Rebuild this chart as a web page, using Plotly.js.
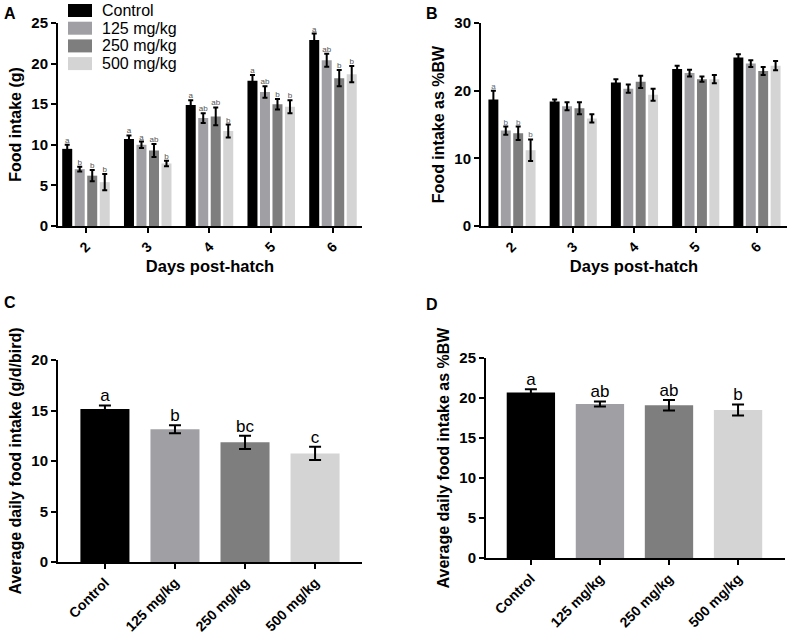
<!DOCTYPE html>
<html><head><meta charset="utf-8">
<script src="https://cdn.plot.ly/plotly-3.0.1.min.js"></script>
<style>html,body{margin:0;padding:0;background:#fff}#plot{width:791px;height:637px}</style>
</head><body><div id="plot"></div>
<script>
// ---- data ----
const days = ['2','3','4','5','6'];
const groups = ['Control','125 mg/kg','250 mg/kg','500 mg/kg'];

// Panel A: food intake (g)
const gControl = [9.5, 10.7, 14.9, 17.9, 22.9];
const gControlErr = [0.5, 0.45, 0.6, 0.7, 0.8];
const g125 = [7.0, 10.0, 13.3, 16.5, 20.4];
const g125Err = [0.3, 0.4, 0.6, 0.7, 0.8];
const g250 = [6.2, 9.3, 13.5, 15.0, 18.2];
const g250Err = [0.7, 0.8, 1.1, 0.65, 1.0];
const g500 = [5.4, 7.7, 11.7, 14.7, 18.7];
const g500Err = [1.0, 0.35, 0.8, 0.8, 1.0];
const gLetControl = ['a','a','a','a','a'];
const gLet125 = ['b','a','ab','ab','ab'];
const gLet250 = ['b','ab','ab','b','b'];
const gLet500 = ['b','b','b','b','b'];

// Panel B: food intake as %BW
const bwControl = [18.7, 18.4, 21.2, 23.2, 24.9];
const bwControlErr = [1.3, 0.3, 0.5, 0.5, 0.5];
const bw125 = [14.1, 17.7, 20.3, 22.6, 24.0];
const bw125Err = [0.6, 0.6, 0.6, 0.5, 0.5];
const bw250 = [13.7, 17.4, 21.3, 21.7, 22.9];
const bw250Err = [1.0, 0.9, 0.9, 0.4, 0.6];
const bw500 = [11.2, 15.9, 19.4, 21.7, 23.7];
const bw500Err = [1.6, 0.6, 0.9, 0.6, 0.7];
const bwLetControl = ['a','','','',''];
const bwLet125 = ['b','','','',''];
const bwLet250 = ['b','','','',''];
const bwLet500 = ['b','','','',''];

// Panel C: average daily food intake (g/d/bird)
const avgG = [15.15, 13.15, 11.85, 10.75];
const avgGErr = [0.35, 0.4, 0.65, 0.65];
const avgGLet = ['a','b','bc','c'];

// Panel D: average daily food intake as %BW
const avgBW = [20.7, 19.25, 19.1, 18.5];
const avgBWErr = [0.4, 0.3, 0.65, 0.7];
const avgBWLet = ['a','ab','ab','b'];

// ---- styles ----
const colors = ['#000000', '#a0a0a4', '#7e7e7e', '#d4d4d4'];
const FONT = 'Liberation Sans, Arial, sans-serif';

const aVals = [gControl, g125, g250, g500];
const aErrs = [gControlErr, g125Err, g250Err, g500Err];
const aLets = [gLetControl, gLet125, gLet250, gLet500];
const bVals = [bwControl, bw125, bw250, bw500];
const bErrs = [bwControlErr, bw125Err, bw250Err, bw500Err];
const bLets = [bwLetControl, bwLet125, bwLet250, bwLet500];

const traces = [];
function groupedPanel(vals, errs, lets, xa, ya, letColor) {
  vals.forEach((v, i) => {
    traces.push({
      type: 'bar', x: days, y: v, name: groups[i], xaxis: xa, yaxis: ya,
      marker: {color: colors[i], line: {width: 0}},
      error_y: {type: 'data', array: errs[i], visible: true, color: '#000', thickness: 2, width: 2.5},
      showlegend: false, hoverinfo: 'skip'
    });
  });
  vals.forEach((v, i) => {
    traces.push({
      type: 'scatter', mode: 'text', x: days, y: v.map((d, k) => d + errs[i][k]),
      text: lets[i], textposition: 'top center', xaxis: xa, yaxis: ya,
      textfont: {family: FONT, size: 8, color: letColor}, cliponaxis: false,
      showlegend: false, hoverinfo: 'skip'
    });
  });
}
groupedPanel(aVals, aErrs, aLets, 'x', 'y', '#555');
groupedPanel(bVals, bErrs, bLets, 'x2', 'y2', '#5a6a7a');

function singlePanel(v, e, l, xa, ya) {
  traces.push({
    type: 'bar', x: groups, y: v, xaxis: xa, yaxis: ya, width: 0.7,
    marker: {color: colors, line: {width: 0}},
    error_y: {type: 'data', array: e, visible: true, color: '#000', thickness: 2, width: 6},
    showlegend: false, hoverinfo: 'skip'
  });
  traces.push({
    type: 'scatter', mode: 'text', x: groups, y: v.map((d, k) => d + e[k]),
    text: l, textposition: 'top center', xaxis: xa, yaxis: ya,
    textfont: {family: FONT, size: 17, color: '#000'}, cliponaxis: false,
    showlegend: false, hoverinfo: 'skip'
  });
}
singlePanel(avgG, avgGErr, avgGLet, 'x3', 'y3');
singlePanel(avgBW, avgBWErr, avgBWLet, 'x4', 'y4');

const W = 791, H = 637;
function xax(l, r, range, anchor, title, fs) {
  return {
    domain: [l / W, r / W], range: range, anchor: anchor, type: 'category',
    showline: true, linecolor: '#000', linewidth: 2, ticks: 'outside', ticklen: 5, tickwidth: 2, tickcolor: '#000',
    tickangle: -45, tickfont: {family: FONT, size: fs, color: '#000', weight: 'bold'},
    showgrid: false, zeroline: false, fixedrange: true,
    title: {text: title, font: {family: FONT, size: 16.5, color: '#000', weight: 'bold'}, standoff: 6}
  };
}
function yax(top, bot, range, dtick, anchor, title) {
  return {
    domain: [1 - bot / H, 1 - top / H], range: range, dtick: dtick, anchor: anchor,
    showline: true, linecolor: '#000', linewidth: 2, ticks: 'outside', ticklen: 5, tickwidth: 2, tickcolor: '#000',
    tickfont: {family: FONT, size: 15, color: '#000', weight: 'bold'},
    showgrid: false, zeroline: false, fixedrange: true,
    title: {text: title, font: {family: FONT, size: 16, color: '#000', weight: 'bold'}, standoff: 6}
  };
}

// hand-drawn legend (larger swatches, tight rows as in the original)
const shapes = [];
const legendAnn = [];
groups.forEach((g, i) => {
  const top = 4 + 17.7 * i;
  shapes.push({type: 'rect', xref: 'paper', yref: 'paper', x0: 68 / W, x1: 92 / W,
    y0: 1 - (top + 13) / H, y1: 1 - top / H, fillcolor: colors[i], line: {width: 0}});
  legendAnn.push({text: g, xref: 'paper', yref: 'paper', x: 100 / W, y: 1 - (top + 6.5) / H,
    xanchor: 'left', yanchor: 'middle', showarrow: false,
    font: {family: FONT, size: 16, color: '#000'}});
});

const layout = {
  width: W, height: H, margin: {l: 0, r: 0, t: 0, b: 0},
  paper_bgcolor: '#fff', plot_bgcolor: 'rgba(0,0,0,0)',
  barmode: 'group', bargap: 0.19, bargroupgap: 0.2,
  scattermode: 'group', scattergap: 0.19,
  font: {family: FONT, color: '#000'}, showlegend: false,
  xaxis: xax(58, 362, [-0.453, 4.47], 'y', 'Days post-hatch', 14),
  yaxis: yax(23, 226, [0, 25], 5, 'x', 'Food intake (g)'),
  xaxis2: xax(481, 787, [-0.506, 4.49], 'y2', 'Days post-hatch', 14),
  yaxis2: yax(23, 226, [0, 30], 10, 'x2', 'Food intake as %BW'),
  xaxis3: xax(58, 362, [-0.67, 3.67], 'y3', '', 14),
  yaxis3: yax(360, 562, [0, 20], 5, 'x3', 'Average daily food intake (g/d/bird)'),
  xaxis4: xax(486, 785, [-0.65, 3.68], 'y4', '', 14),
  yaxis4: yax(358, 558, [0, 25], 5, 'x4', 'Average daily food intake as %BW'),
  shapes: shapes,
  annotations: [
    {text: 'A', x: 2 / W, y: 1 - 3 / H},
    {text: 'B', x: 424 / W, y: 1 - 3 / H},
    {text: 'C', x: 2 / W, y: 1 - 292 / H},
    {text: 'D', x: 424 / W, y: 1 - 294 / H}
  ].map(a => Object.assign(a, {xref: 'paper', yref: 'paper', xanchor: 'left', yanchor: 'top', showarrow: false,
    font: {family: FONT, size: 16, color: '#000', weight: 'bold'}})).concat(legendAnn)
};

Plotly.newPlot('plot', traces, layout, {displayModeBar: false, staticPlot: true});
</script></body></html>
